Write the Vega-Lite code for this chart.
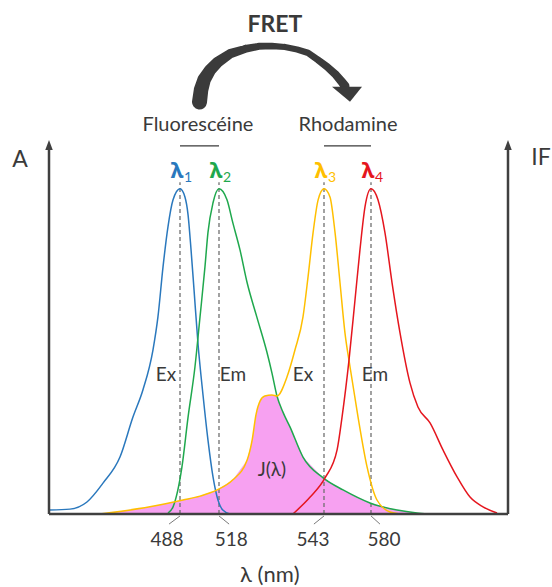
{
  "$schema": "https://vega.github.io/schema/vega-lite/v6.json",
  "width": 459,
  "height": 374,
  "autosize": {"type": "none"},
  "padding": {"left": 49, "top": 140, "right": 44, "bottom": 73},
  "background": "white",
  "config": {"view": {"stroke": null}, "text": {"font": "Lato", "color": "#3a3a3a"}},
  "encoding": {
    "x": {"field": "x", "type": "quantitative", "axis": null,
      "scale": {"domain": [390, 488, 518, 543, 580, 690], "range": [0, 131, 170, 275, 322, 459], "nice": false, "zero": false}},
    "y": {"field": "y", "type": "quantitative", "axis": null,
      "scale": {"domain": [0, 1.15], "nice": false, "zero": false}}
  },
  "layer": [
    {
      "data": {"values": [
        {"x": 428.1, "y": 0}, {"x": 465.5, "y": 0.022}, {"x": 490.3, "y": 0.043}, {"x": 503.4, "y": 0.055},
        {"x": 516.5, "y": 0.074}, {"x": 521.3, "y": 0.105}, {"x": 524.7, "y": 0.166}, {"x": 525.9, "y": 0.228},
        {"x": 526.8, "y": 0.305}, {"x": 527.8, "y": 0.348}, {"x": 528.9, "y": 0.363}, {"x": 530.6, "y": 0.366},
        {"x": 531.8, "y": 0.363}, {"x": 533.2, "y": 0.314}, {"x": 534.9, "y": 0.268}, {"x": 538.0, "y": 0.175},
        {"x": 542.8, "y": 0.111}, {"x": 558.0, "y": 0.074}, {"x": 579.2, "y": 0.034}, {"x": 600.9, "y": 0.012},
        {"x": 616.9, "y": 0.003}, {"x": 620, "y": 0}
      ]},
      "mark": {"type": "area", "color": "#f7a1f1", "opacity": 1}
    },
    {
      "data": {"values": [{"x": 488, "y": 0}, {"x": 518, "y": 0}, {"x": 543, "y": 0}, {"x": 580, "y": 0}]},
      "mark": {"type": "rule", "color": "#707070", "strokeDash": [4, 3], "strokeWidth": 1.3},
      "encoding": {"y2": {"datum": 1.02}}
    },
    {
      "data": {"values": [
        {"series": "Fluorescéine Ex", "x": 390.7, "y": 0.012}, {"series": "Fluorescéine Ex", "x": 405.7, "y": 0.015},
        {"series": "Fluorescéine Ex", "x": 418.4, "y": 0.037}, {"series": "Fluorescéine Ex", "x": 430.4, "y": 0.095},
        {"series": "Fluorescéine Ex", "x": 443.1, "y": 0.175}, {"series": "Fluorescéine Ex", "x": 452.8, "y": 0.298},
        {"series": "Fluorescéine Ex", "x": 460.3, "y": 0.382}, {"series": "Fluorescéine Ex", "x": 467.8, "y": 0.505},
        {"series": "Fluorescéine Ex", "x": 471.5, "y": 0.606}, {"series": "Fluorescéine Ex", "x": 475.3, "y": 0.76},
        {"series": "Fluorescéine Ex", "x": 479.0, "y": 0.883}, {"series": "Fluorescéine Ex", "x": 482.8, "y": 0.966},
        {"series": "Fluorescéine Ex", "x": 488.0, "y": 1.0}, {"series": "Fluorescéine Ex", "x": 491.8, "y": 0.975},
        {"series": "Fluorescéine Ex", "x": 494.2, "y": 0.92}, {"series": "Fluorescéine Ex", "x": 496.5, "y": 0.812},
        {"series": "Fluorescéine Ex", "x": 498.8, "y": 0.689}, {"series": "Fluorescéine Ex", "x": 501.8, "y": 0.526},
        {"series": "Fluorescéine Ex", "x": 505.7, "y": 0.366}, {"series": "Fluorescéine Ex", "x": 509.5, "y": 0.228},
        {"series": "Fluorescéine Ex", "x": 513.4, "y": 0.114}, {"series": "Fluorescéine Ex", "x": 517.2, "y": 0.043},
        {"series": "Fluorescéine Ex", "x": 518.9, "y": 0.012}, {"series": "Fluorescéine Ex", "x": 520.6, "y": 0.0},

        {"series": "Fluorescéine Em", "x": 479.0, "y": 0.003}, {"series": "Fluorescéine Em", "x": 482.8, "y": 0.022},
        {"series": "Fluorescéine Em", "x": 489.5, "y": 0.145}, {"series": "Fluorescéine Em", "x": 494.2, "y": 0.298},
        {"series": "Fluorescéine Em", "x": 499.5, "y": 0.452}, {"series": "Fluorescéine Em", "x": 503.4, "y": 0.606},
        {"series": "Fluorescéine Em", "x": 507.2, "y": 0.76}, {"series": "Fluorescéine Em", "x": 509.5, "y": 0.865},
        {"series": "Fluorescéine Em", "x": 513.4, "y": 0.957}, {"series": "Fluorescéine Em", "x": 518.0, "y": 1.0},
        {"series": "Fluorescéine Em", "x": 519.9, "y": 0.966}, {"series": "Fluorescéine Em", "x": 521.3, "y": 0.895},
        {"series": "Fluorescéine Em", "x": 523.0, "y": 0.812}, {"series": "Fluorescéine Em", "x": 524.7, "y": 0.711},
        {"series": "Fluorescéine Em", "x": 527.0, "y": 0.606}, {"series": "Fluorescéine Em", "x": 529.4, "y": 0.498},
        {"series": "Fluorescéine Em", "x": 530.6, "y": 0.434}, {"series": "Fluorescéine Em", "x": 531.8, "y": 0.363},
        {"series": "Fluorescéine Em", "x": 533.2, "y": 0.314}, {"series": "Fluorescéine Em", "x": 534.9, "y": 0.268},
        {"series": "Fluorescéine Em", "x": 538.0, "y": 0.175}, {"series": "Fluorescéine Em", "x": 542.8, "y": 0.111},
        {"series": "Fluorescéine Em", "x": 558.0, "y": 0.074}, {"series": "Fluorescéine Em", "x": 579.2, "y": 0.034},
        {"series": "Fluorescéine Em", "x": 600.9, "y": 0.012}, {"series": "Fluorescéine Em", "x": 616.9, "y": 0.003},
        {"series": "Fluorescéine Em", "x": 626.0, "y": 0.0},

        {"series": "Rhodamine Ex", "x": 428.1, "y": 0.0}, {"series": "Rhodamine Ex", "x": 465.5, "y": 0.022},
        {"series": "Rhodamine Ex", "x": 490.3, "y": 0.043}, {"series": "Rhodamine Ex", "x": 503.4, "y": 0.055},
        {"series": "Rhodamine Ex", "x": 516.5, "y": 0.074}, {"series": "Rhodamine Ex", "x": 521.3, "y": 0.105},
        {"series": "Rhodamine Ex", "x": 524.7, "y": 0.166}, {"series": "Rhodamine Ex", "x": 525.9, "y": 0.228},
        {"series": "Rhodamine Ex", "x": 526.8, "y": 0.305}, {"series": "Rhodamine Ex", "x": 527.8, "y": 0.348},
        {"series": "Rhodamine Ex", "x": 528.9, "y": 0.363}, {"series": "Rhodamine Ex", "x": 530.6, "y": 0.366},
        {"series": "Rhodamine Ex", "x": 531.8, "y": 0.363}, {"series": "Rhodamine Ex", "x": 534.2, "y": 0.422},
        {"series": "Rhodamine Ex", "x": 536.1, "y": 0.505}, {"series": "Rhodamine Ex", "x": 538.0, "y": 0.606},
        {"series": "Rhodamine Ex", "x": 539.2, "y": 0.729}, {"series": "Rhodamine Ex", "x": 540.4, "y": 0.865},
        {"series": "Rhodamine Ex", "x": 541.6, "y": 0.966}, {"series": "Rhodamine Ex", "x": 543.0, "y": 1.0},
        {"series": "Rhodamine Ex", "x": 547.7, "y": 0.975}, {"series": "Rhodamine Ex", "x": 551.7, "y": 0.865},
        {"series": "Rhodamine Ex", "x": 555.6, "y": 0.711}, {"series": "Rhodamine Ex", "x": 559.5, "y": 0.557},
        {"series": "Rhodamine Ex", "x": 563.5, "y": 0.452}, {"series": "Rhodamine Ex", "x": 569.8, "y": 0.298},
        {"series": "Rhodamine Ex", "x": 576.9, "y": 0.145}, {"series": "Rhodamine Ex", "x": 584.8, "y": 0.043},
        {"series": "Rhodamine Ex", "x": 595.3, "y": 0.006}, {"series": "Rhodamine Ex", "x": 603.3, "y": 0.0},

        {"series": "Rhodamine Em", "x": 535.6, "y": 0.0}, {"series": "Rhodamine Em", "x": 539.7, "y": 0.052},
        {"series": "Rhodamine Em", "x": 543.8, "y": 0.111}, {"series": "Rhodamine Em", "x": 553.3, "y": 0.197},
        {"series": "Rhodamine Em", "x": 557.2, "y": 0.298}, {"series": "Rhodamine Em", "x": 562.7, "y": 0.474},
        {"series": "Rhodamine Em", "x": 567.4, "y": 0.658}, {"series": "Rhodamine Em", "x": 571.3, "y": 0.812},
        {"series": "Rhodamine Em", "x": 575.3, "y": 0.945}, {"series": "Rhodamine Em", "x": 580.0, "y": 1.0},
        {"series": "Rhodamine Em", "x": 585.6, "y": 0.966}, {"series": "Rhodamine Em", "x": 591.2, "y": 0.865},
        {"series": "Rhodamine Em", "x": 596.9, "y": 0.711}, {"series": "Rhodamine Em", "x": 603.3, "y": 0.557},
        {"series": "Rhodamine Em", "x": 611.3, "y": 0.403}, {"series": "Rhodamine Em", "x": 617.7, "y": 0.329},
        {"series": "Rhodamine Em", "x": 627.4, "y": 0.28}, {"series": "Rhodamine Em", "x": 637.8, "y": 0.197},
        {"series": "Rhodamine Em", "x": 649.1, "y": 0.114}, {"series": "Rhodamine Em", "x": 659.5, "y": 0.052},
        {"series": "Rhodamine Em", "x": 669.9, "y": 0.022}, {"series": "Rhodamine Em", "x": 681.2, "y": 0.003}
      ]},
      "mark": {"type": "line", "strokeWidth": 1.5, "interpolate": "monotone"},
      "encoding": {
        "color": {"field": "series", "type": "nominal", "legend": null,
          "scale": {"domain": ["Fluorescéine Ex", "Fluorescéine Em", "Rhodamine Ex", "Rhodamine Em"],
                    "range": ["#2a78bd", "#1fa84d", "#ffbf00", "#e5161e"]}},
        "detail": {"field": "series"}
      }
    },
    {
      "data": {"values": [
        {"x": 390, "y": 0, "x2": 690, "y2": 0},
        {"x": 390, "y": 0, "x2": 390, "y2": 1.125},
        {"x": 690, "y": 0, "x2": 690, "y2": 1.125}
      ]},
      "mark": {"type": "rule", "color": "#404040", "strokeWidth": 2.5},
      "encoding": {"x2": {"field": "x2"}, "y2": {"field": "y2"}}
    },
    {
      "data": {"values": [{"x": 390, "y": 1.135}, {"x": 690, "y": 1.135}]},
      "mark": {"type": "point", "shape": "M0,-1L0.75,1L-0.75,1Z", "size": 100, "filled": true, "color": "#404040", "opacity": 1}
    },
    {
      "data": {"values": [
        {"x": 488, "y": -0.006, "x2": 479.8, "y2": -0.031},
        {"x": 518, "y": -0.006, "x2": 520.4, "y2": -0.031},
        {"x": 543, "y": -0.006, "x2": 540.6, "y2": -0.031},
        {"x": 580, "y": -0.006, "x2": 587.2, "y2": -0.031}
      ]},
      "mark": {"type": "rule", "color": "#7a7a7a", "strokeWidth": 1},
      "encoding": {"x2": {"field": "x2"}, "y2": {"field": "y2"}}
    },
    {
      "data": {"values": [
        {"x": 488, "y": 1.132, "x2": 518, "y2": 1.132},
        {"x": 543, "y": 1.132, "x2": 580, "y2": 1.132}
      ]},
      "mark": {"type": "rule", "color": "#3a3a3a", "strokeWidth": 1.3},
      "encoding": {"x2": {"field": "x2"}, "y2": {"field": "y2"}}
    },
    {
      "data": {"values": [
        {"i": 1, "x": 503.0, "y": 1.267, "w": 15},
        {"i": 2, "x": 504.2, "y": 1.304, "w": 14.5},
        {"i": 3, "x": 506.5, "y": 1.335, "w": 13.5},
        {"i": 4, "x": 511.1, "y": 1.365, "w": 12},
        {"i": 5, "x": 517.2, "y": 1.39, "w": 11},
        {"i": 6, "x": 520.6, "y": 1.415, "w": 9.5},
        {"i": 7, "x": 524.2, "y": 1.43, "w": 8},
        {"i": 8, "x": 527.5, "y": 1.438, "w": 7},
        {"i": 9, "x": 530.6, "y": 1.439, "w": 6.5},
        {"i": 10, "x": 533.7, "y": 1.436, "w": 6.2},
        {"i": 11, "x": 536.6, "y": 1.428, "w": 6.2},
        {"i": 12, "x": 539.2, "y": 1.418, "w": 6.5},
        {"i": 13, "x": 541.6, "y": 1.396, "w": 7},
        {"i": 14, "x": 545.4, "y": 1.375, "w": 7.5},
        {"i": 15, "x": 551.7, "y": 1.353, "w": 8},
        {"i": 16, "x": 557.2, "y": 1.328, "w": 8.5},
        {"i": 17, "x": 559.5, "y": 1.316, "w": 9}
      ]},
      "mark": {"type": "trail", "color": "#3b3b3b"},
      "encoding": {
        "order": {"field": "i", "type": "quantitative"},
        "size": {"field": "w", "type": "quantitative", "legend": null, "scale": {"domain": [0, 15], "range": [0, 15]}}
      }
    },
    {
      "data": {"values": [{"x": 561.1, "y": 1.291}]},
      "mark": {"type": "point", "shape": "M-1,-0.5L1,-0.5L0.2,0.5Z", "size": 900, "filled": true, "color": "#3b3b3b", "opacity": 1}
    },
    {
      "data": {"values": [{"x": 531.3, "y": 1.505, "text": "FRET"}]},
      "mark": {"type": "text", "fontSize": 23, "fontWeight": "bold", "baseline": "middle", "align": "center"},
      "encoding": {"text": {"field": "text"}}
    },
    {
      "data": {"values": [
        {"x": 501.8, "y": 1.196, "text": "Fluorescéine"},
        {"x": 561.9, "y": 1.196, "text": "Rhodamine"}
      ]},
      "mark": {"type": "text", "fontSize": 20, "baseline": "middle", "align": "center"},
      "encoding": {"text": {"field": "text"}}
    },
    {
      "data": {"values": [
        {"x": 368.3, "y": 1.089, "text": "A"},
        {"x": 716.5, "y": 1.095, "text": "IF"}
      ]},
      "mark": {"type": "text", "fontSize": 23, "baseline": "middle", "align": "center"},
      "encoding": {"text": {"field": "text"}}
    },
    {
      "data": {"values": [
        {"x": 488, "y": 1.033, "series": "Fluorescéine Ex", "n": "1"},
        {"x": 518, "y": 1.033, "series": "Fluorescéine Em", "n": "2"},
        {"x": 543, "y": 1.033, "series": "Rhodamine Ex", "n": "3"},
        {"x": 580, "y": 1.033, "series": "Rhodamine Em", "n": "4"}
      ]},
      "layer": [
        {
          "mark": {"type": "text", "text": "λ", "font": "Noto Sans", "fontSize": 22, "fontWeight": "bold", "baseline": "alphabetic", "align": "center", "dx": -3},
          "encoding": {"color": {"field": "series", "type": "nominal", "legend": null}}
        },
        {
          "mark": {"type": "text", "font": "Lato", "fontSize": 14, "baseline": "alphabetic", "align": "center", "dx": 8, "dy": 4},
          "encoding": {"text": {"field": "n"}, "color": {"field": "series", "type": "nominal", "legend": null}}
        }
      ]
    },
    {
      "data": {"values": [
        {"x": 477.5, "y": 0.427, "text": "Ex"},
        {"x": 521.3, "y": 0.427, "text": "Em"},
        {"x": 538.0, "y": 0.427, "text": "Ex"},
        {"x": 583.2, "y": 0.427, "text": "Em"},
        {"x": 530.6, "y": 0.135, "text": "J(λ)"}
      ]},
      "mark": {"type": "text", "fontSize": 19, "baseline": "middle", "align": "center"},
      "encoding": {"text": {"field": "text"}}
    },
    {
      "data": {"values": [
        {"x": 478.3, "y": -0.08, "text": "488"},
        {"x": 520.9, "y": -0.08, "text": "518"},
        {"x": 540.4, "y": -0.08, "text": "543"},
        {"x": 590.4, "y": -0.08, "text": "580"}
      ]},
      "mark": {"type": "text", "fontSize": 19, "baseline": "middle", "align": "center"},
      "encoding": {"text": {"field": "text"}}
    },
    {
      "data": {"values": [{"x": 530.1, "y": -0.188, "text": "λ (nm)"}]},
      "mark": {"type": "text", "fontSize": 22, "baseline": "middle", "align": "center"},
      "encoding": {"text": {"field": "text"}}
    }
  ]
}
